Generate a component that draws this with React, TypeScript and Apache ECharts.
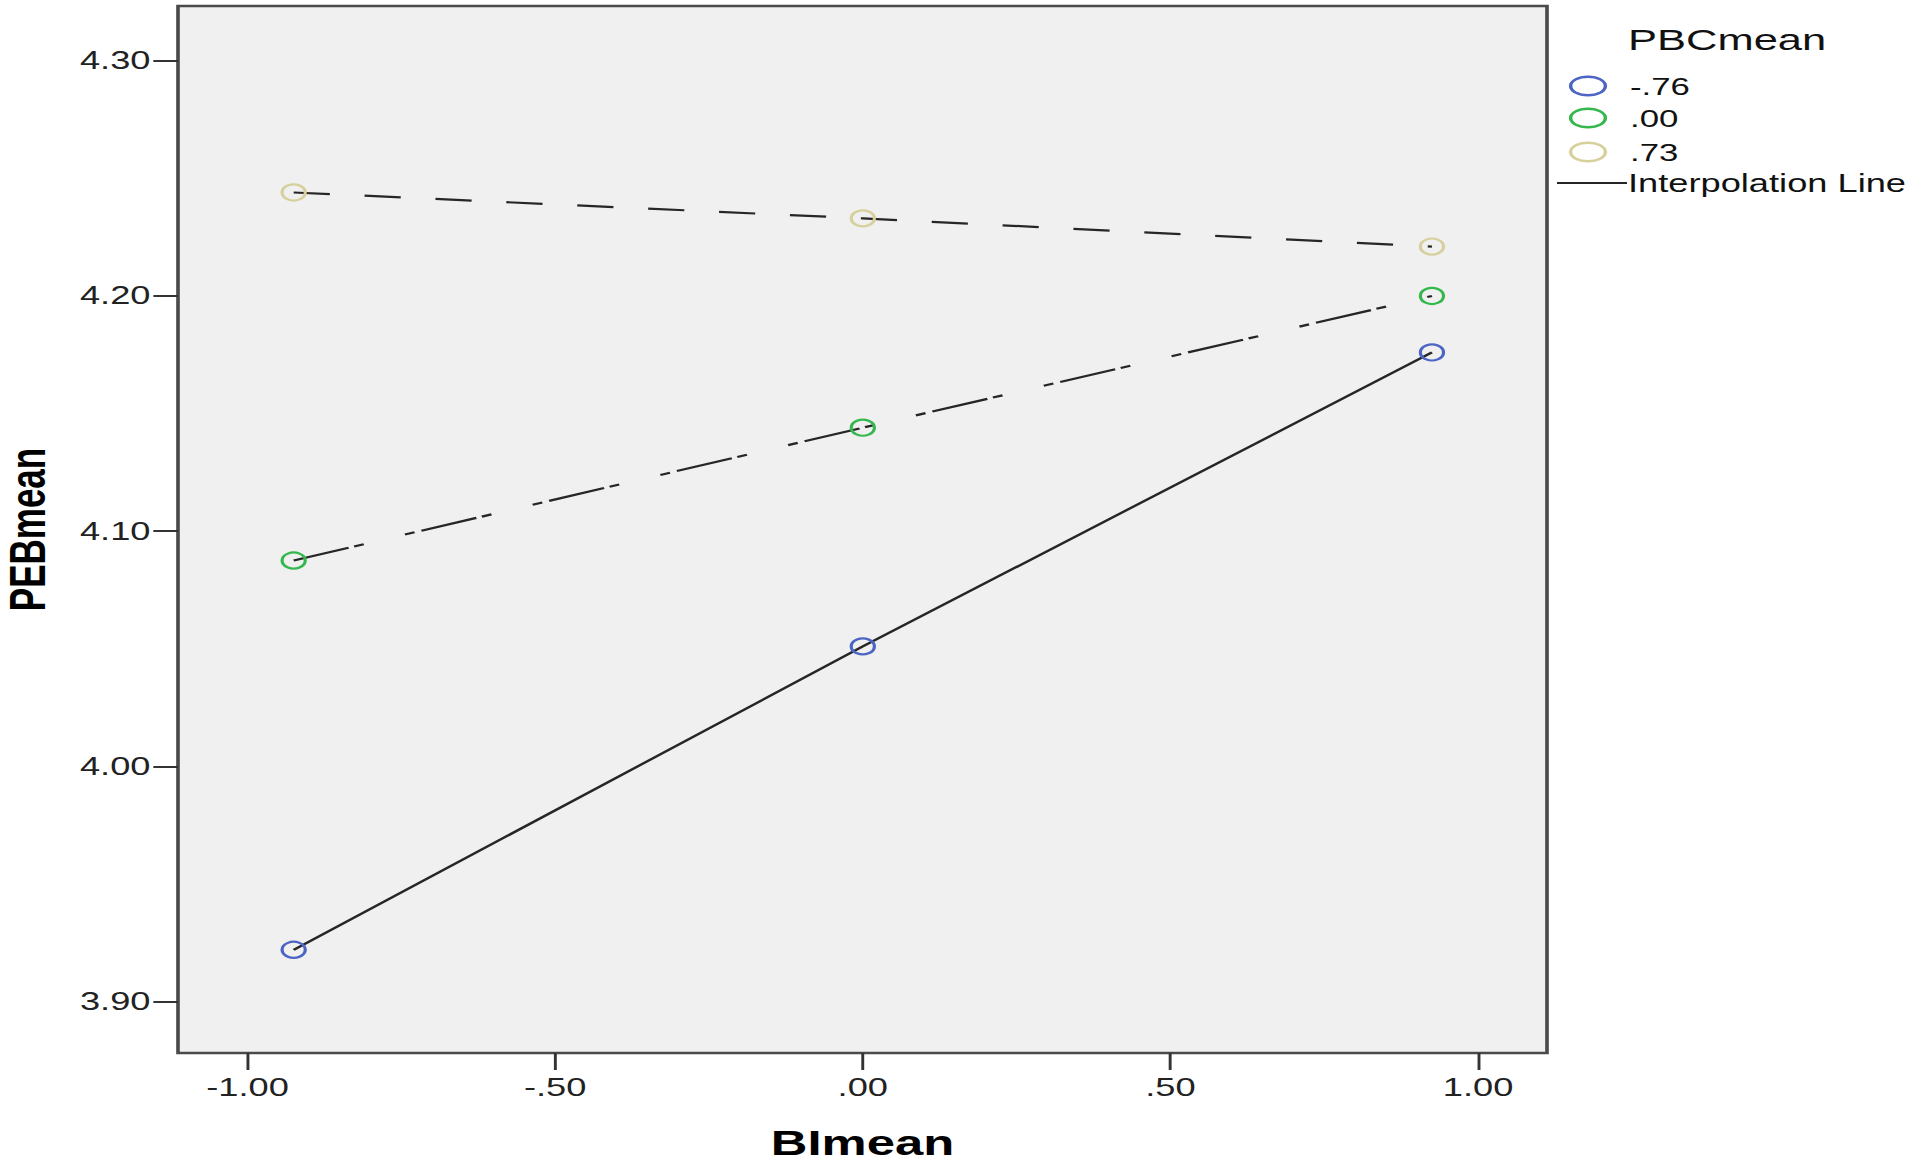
import React, { useEffect, useRef } from "react";
import * as echarts from "echarts";

// ---- data ----
const BI_VALUES = [-0.925, 0, 0.925];
const GROUP_LABELS = ["-.76", ".00", ".73"];
const PEB_LOW = [3.922, 4.051, 4.176];
const PEB_MID = [4.0875, 4.144, 4.2];
const PEB_HIGH = [4.244, 4.233, 4.221];
const X_TICKS = [-1, -0.5, 0, 0.5, 1];
const Y_TICKS = [3.9, 4.0, 4.1, 4.2, 4.3];
const LEGEND_TITLE = "PBCmean";
const LINE_LABEL = "Interpolation Line";
const X_NAME = "BImean";
const Y_NAME = "PEBmean";

// ---- styling / layout ----
const S = 1.45; // horizontal stretch of the original picture
const H = 1161;
const W = 1908 / S;
const FONT = "'Liberation Sans', Arial, sans-serif";
const COLORS = ["#4c64c4", "#34b84e", "#d6d09c"];
const DASHES: any[] = ["solid", [40, 4, 7, 30, 7, 5], [25, 24]];
const LINE_COLOR = "#262626";

const fmt = (v: number) => v.toFixed(2).replace(/^(-?)0\./, "$1.");
const ux = (X: number) => X / S;

function buildOption() {
  const groups = [PEB_LOW, PEB_MID, PEB_HIGH];
  const series = groups.map((vals, i) => ({
    type: "line",
    name: GROUP_LABELS[i],
    data: BI_VALUES.map((x, j) => [x, vals[j]]),
    symbol: "circle",
    symbolSize: 16,
    showSymbol: true,
    itemStyle: { color: "rgba(0,0,0,0)", borderColor: COLORS[i], borderWidth: 2.2 },
    lineStyle: { color: LINE_COLOR, width: 2.2, type: DASHES[i] },
    z: 3,
  }));

  const legendY = [86, 118, 152];
  const graphic: any[] = [
    {
      type: "text",
      x: ux(1628),
      y: 40,
      style: { text: LEGEND_TITLE, fontSize: 30, fontFamily: FONT, fill: "#111", align: "left", verticalAlign: "middle" },
    },
  ];
  GROUP_LABELS.forEach((lab, i) => {
    graphic.push({
      type: "ellipse",
      shape: { cx: ux(1588), cy: legendY[i], rx: 12, ry: 9.3 },
      style: { fill: "none", stroke: COLORS[i], lineWidth: 2.4 },
    });
    graphic.push({
      type: "text",
      x: ux(1630),
      y: legendY[i] + 1,
      style: { text: lab, fontSize: 24, fontFamily: FONT, fill: "#111", align: "left", verticalAlign: "middle" },
    });
  });
  graphic.push({
    type: "line",
    shape: { x1: ux(1557), y1: 183, x2: ux(1627), y2: 183 },
    style: { stroke: LINE_COLOR, lineWidth: 2 },
  });
  graphic.push({
    type: "text",
    x: ux(1628),
    y: 184,
    style: { text: LINE_LABEL, fontSize: 25, fontFamily: FONT, fill: "#111", align: "left", verticalAlign: "middle" },
  });

  return {
    animation: false,
    backgroundColor: "#ffffff",
    textStyle: { fontFamily: FONT },
    grid: {
      left: ux(178),
      right: W - ux(1547),
      top: 6,
      bottom: H - 1053,
      show: true,
      backgroundColor: "#f0f0f0",
      borderColor: "#4a4a4a",
      borderWidth: 2.5,
      containLabel: false,
      outerBoundsMode: "none",
    },
    xAxis: {
      type: "value",
      min: -1.113,
      max: 1.112,
      axisLine: { show: false, onZero: false },
      splitLine: { show: false },
      axisTick: { show: true, length: 17, customValues: X_TICKS, lineStyle: { color: "#333", width: 2 } },
      axisLabel: {
        customValues: X_TICKS,
        formatter: (v: number) => fmt(v),
        fontSize: 25,
        color: "#222",
        margin: 22,
        fontFamily: FONT,
      },
      name: X_NAME,
      nameLocation: "middle",
      nameGap: 72,
      nameTextStyle: { fontSize: 35, fontWeight: "bold", color: "#000", fontFamily: FONT },
    },
    yAxis: {
      type: "value",
      min: 3.8781,
      max: 4.3233,
      axisLine: { show: false, onZero: false },
      splitLine: { show: false },
      axisTick: { show: true, length: 17, customValues: Y_TICKS, lineStyle: { color: "#333", width: 2 } },
      axisLabel: {
        customValues: Y_TICKS,
        formatter: (v: number) => fmt(v),
        fontSize: 25,
        color: "#222",
        margin: 19,
        fontFamily: FONT,
      },
      name: Y_NAME,
      nameLocation: "middle",
      nameGap: 86,
      nameRotate: 90,
      nameTextStyle: { fontSize: 35, fontWeight: "bold", color: "#000", fontFamily: FONT },
    },
    graphic,
    series,
  };
}

export default function App() {
  const ref = useRef<HTMLDivElement>(null);
  useEffect(() => {
    document.body.style.margin = "0";
    document.body.style.overflow = "hidden";
    const chart = echarts.init(ref.current as HTMLDivElement, undefined, { renderer: "svg", width: W, height: H });
    chart.setOption(buildOption() as any);
    return () => chart.dispose();
  }, []);
  return (
    <div
      ref={ref}
      style={{ width: W, height: H, transform: `scaleX(${S})`, transformOrigin: "0 0", background: "#fff" }}
    />
  );
}
